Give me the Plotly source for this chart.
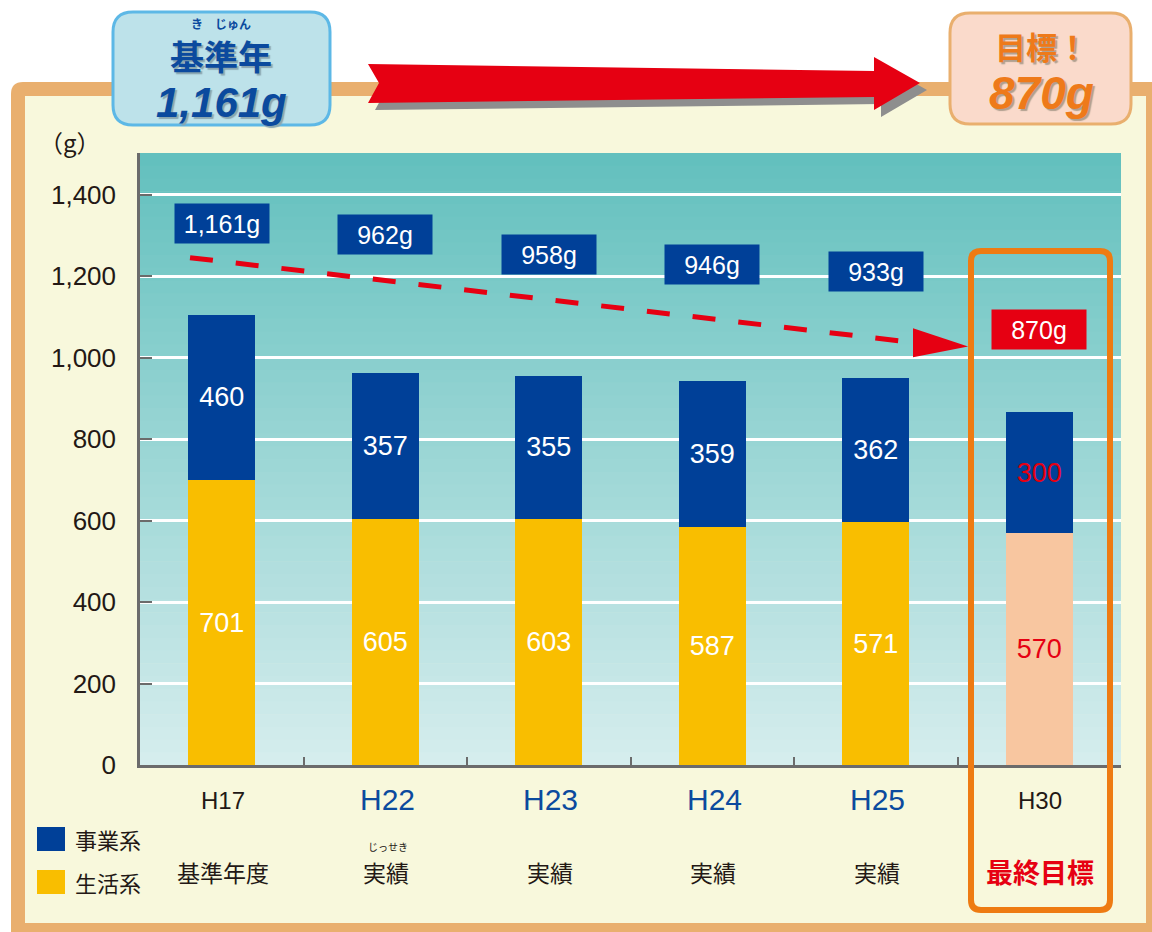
import plotly.graph_objects as go

# ---------------- data ----------------
categories = ["H17", "H22", "H23", "H24", "H25", "H30"]
row2_labels = ["基準年度", "実績", "実績", "実績", "実績", "最終目標"]
# segment heights as drawn in the picture
seikatsu_height = [700, 604, 604, 584, 597, 570]
jigyo_height = [405, 358, 351, 359, 353, 296]
# printed labels
seikatsu_label = [701, 605, 603, 587, 571, 570]
jigyo_label = [460, 357, 355, 359, 362, 300]
totals = [1161, 962, 958, 946, 933, 870]
y_ticks = [0, 200, 400, 600, 800, 1000, 1200, 1400]

# ---------------- layout helpers ----------------
W, H = 1152, 932          # design canvas
H_PAGE = 947              # rendered page height (viewport is captured into 932 px)
def px(x): return x / W
def py(y): return 1 - y / H
def path(points):
    s = "M %f,%f " % (px(points[0][0]), py(points[0][1]))
    for p in points[1:]:
        s += "L %f,%f " % (px(p[0]), py(p[1]))
    return s + "Z"
def rrect(x0, y0, x1, y1, r):
    P = lambda x, y: "%f,%f" % (px(x), py(y))
    return ("M " + P(x0 + r, y0) + " L " + P(x1 - r, y0) + " Q " + P(x1, y0) + " " + P(x1, y0 + r) +
            " L " + P(x1, y1 - r) + " Q " + P(x1, y1) + " " + P(x1 - r, y1) +
            " L " + P(x0 + r, y1) + " Q " + P(x0, y1) + " " + P(x0, y1 - r) +
            " L " + P(x0, y0 + r) + " Q " + P(x0, y0) + " " + P(x0 + r, y0) + " Z")

BLUE = "#004098"
YELLOW = "#F9BE00"
PEACH = "#F8C6A0"
RED = "#E60012"
ORANGE = "#EE7B12"
TAN = "#E9AF6E"
CREAM = "#F8F8DC"
DARK = "#231815"
NUMF = "Liberation Sans, Arial, sans-serif"
JPF = "Noto Sans CJK JP, sans-serif"

plot_top, plot_bot, plot_left, plot_right = 153, 765.2, 140, 1121
y_max = (plot_bot - plot_top) / ((plot_bot - 194.5) / 1400)

fig = go.Figure()
fig.add_trace(go.Bar(
    x=categories, y=seikatsu_height, name="生活系", width=0.41,
    marker=dict(color=[YELLOW] * 5 + [PEACH], line=dict(width=0)),
    text=[str(v) for v in seikatsu_label], textposition="inside", insidetextanchor="middle",
    textangle=0, constraintext="none",
    textfont=dict(family=NUMF, size=27, color=["white"] * 5 + [RED]),
    hoverinfo="skip"))
fig.add_trace(go.Bar(
    x=categories, y=jigyo_height, name="事業系", width=0.41,
    marker=dict(color=BLUE, line=dict(width=0)),
    text=[str(v) for v in jigyo_label], textposition="inside", insidetextanchor="middle",
    textangle=0, constraintext="none",
    textfont=dict(family=NUMF, size=27, color=["white"] * 5 + [RED]),
    hoverinfo="skip"))

shapes = []
# outer frame & cream panel
shapes.append(dict(type="path", xref="paper", yref="paper", layer="below",
                   path=rrect(11, 82, 1165, 960, 12), fillcolor=TAN, line=dict(width=0)))
shapes.append(dict(type="rect", xref="paper", yref="paper", layer="below",
                   x0=px(25), x1=px(1146), y0=py(923), y1=py(96), fillcolor=CREAM, line=dict(width=0)))
# gradient background of plot area
n = 48
top_c = (98, 192, 190)
bot_c = (214, 237, 237)
for i in range(n):
    t = (i + 0.5) / n
    c = tuple(int(round(top_c[k] + (bot_c[k] - top_c[k]) * t)) for k in range(3))
    y0 = plot_top + (plot_bot - plot_top) * i / n
    y1 = plot_top + (plot_bot - plot_top) * (i + 1) / n
    shapes.append(dict(type="rect", xref="paper", yref="paper", layer="below",
                       x0=px(plot_left), x1=px(plot_right), y0=py(y1 + 0.6), y1=py(y0),
                       fillcolor="rgb(%d,%d,%d)" % c, line=dict(width=0)))

# big red arrow at the top (shadow then arrow)
arrow_pts = [(368, 64), (874, 71), (874, 57), (920, 83), (874, 110), (874, 97), (368, 103), (379, 83)]
shapes.append(dict(type="path", xref="paper", yref="paper", layer="above",
                   path=path([(x + 7, y + 7) for x, y in arrow_pts]), fillcolor="#8E8E8E", line=dict(width=0)))
shapes.append(dict(type="path", xref="paper", yref="paper", layer="above",
                   path=path(arrow_pts), fillcolor=RED, line=dict(width=0)))

# top boxes
shapes.append(dict(type="path", xref="paper", yref="paper", layer="above",
                   path=rrect(113, 12, 330, 125, 20), fillcolor="#BDE2EA", line=dict(color="#5DB8E6", width=3)))
shapes.append(dict(type="path", xref="paper", yref="paper", layer="above",
                   path=rrect(950, 13, 1131, 124, 20), fillcolor="#FADACB", line=dict(color=TAN, width=3)))

# dashed trend line and arrowhead (in category/value units)
shapes.append(dict(type="line", xref="x", yref="y", x0=-0.194, y0=1245, x1=4.23, y1=1037,
                   line=dict(color=RED, width=5, dash="23px,23px"), layer="above"))
shapes.append(dict(type="path", xref="x", yref="y", layer="above",
                   path="M 4.228,1072 L 4.565,1027 L 4.228,1001 Z", fillcolor=RED, line=dict(width=0)))

# orange frame around the target column
shapes.append(dict(type="path", xref="paper", yref="paper", layer="above",
                   path=rrect(971, 251, 1110, 910, 10), fillcolor="rgba(0,0,0,0)", line=dict(color=ORANGE, width=6)))

# legend squares
shapes.append(dict(type="rect", xref="paper", yref="paper", x0=px(37), x1=px(65), y0=py(851), y1=py(827),
                   fillcolor=BLUE, line=dict(width=0)))
shapes.append(dict(type="rect", xref="paper", yref="paper", x0=px(37), x1=px(65), y0=py(894), y1=py(870),
                   fillcolor=YELLOW, line=dict(width=0)))

ann = []
def A(x, y, text, size, color, family=JPF, xanchor="center", **kw):
    d = dict(xref="paper", yref="paper", x=px(x), y=py(y), text=text, showarrow=False,
             xanchor=xanchor, yanchor="middle", font=dict(family=family, size=size, color=color))
    d["font"].update(kw.pop("fontkw", {}))
    d.update(kw)
    ann.append(d)

# total boxes
box_y = [1329, 1302, 1253, 1228, 1211, 1068]
for i, (c, v) in enumerate(zip(categories, totals)):
    ann.append(dict(xref="x", yref="y", x=i, y=box_y[i], text="{:,}g".format(v), showarrow=False,
                    bgcolor=BLUE if i < 5 else RED, width=90, height=35, borderpad=2,
                    font=dict(family=NUMF, size=25, color="white")))

# x category labels
for i, c in enumerate(categories):
    xc = plot_left + (plot_right - plot_left) * (i + 0.5) / len(categories)
    if c in ("H17", "H30"):
        A(xc + 1, 800, c, 24, DARK, family=NUMF)
    else:
        A(xc + 2, 799, c, 30, "#0B4A9E", family=NUMF)
    if i == 5:
        A(xc + 1, 871, "<b>" + row2_labels[i] + "</b>", 27, RED)
    else:
        A(xc + 1, 872, row2_labels[i], 23, DARK)
# furigana
A(388, 846, "じっせき", 10, DARK)

# legend text
A(73, 839, "事業系", 22, DARK, xanchor="left")
A(73, 882, "生活系", 22, DARK, xanchor="left")
# unit
A(70, 142, "（g）", 24, DARK)

# top box texts
A(221, 24, "き　じゅん", 12, "#0B4A9E", fontkw=dict(weight="bold"))
A(221, 56, "<b>基準年</b>", 34, "#0B4A9E", fontkw=dict(shadow="2px 2px 1px #8aa6b0"))
A(221, 103, "<b><i>1,161g</i></b>", 42, "#0B4A9E", family=NUMF, fontkw=dict(shadow="2px 2px 1px #8aa6b0"))
A(1041, 45, "<b>目標！</b>", 31, "#EE7A1A", fontkw=dict(shadow="2px 2px 1px #b0a090"))
A(1041, 93, "<b><i>870g</i></b>", 46, "#EE7A1A", family=NUMF, fontkw=dict(shadow="2px 2px 1px #b0a090"))

fig.update_layout(
    width=W, height=H_PAGE, margin=dict(l=0, r=0, t=0, b=0),
    paper_bgcolor="white", plot_bgcolor="rgba(0,0,0,0)",
    barmode="stack", showlegend=False,
    shapes=shapes, annotations=ann,
    xaxis=dict(type="category", domain=[px(plot_left), px(plot_right)], showgrid=False,
               showline=True, linecolor="#6b6b6b", linewidth=2.5, ticks="inside", ticklen=8,
               tickwidth=2, tickcolor="#6b6b6b", tickson="boundaries", showticklabels=False,
               range=[-0.5, 5.5], fixedrange=True),
    yaxis=dict(domain=[py(plot_bot), py(plot_top)], range=[0, y_max], tickvals=y_ticks,
               tickformat=",", showgrid=True, gridcolor="white", gridwidth=2.5, zeroline=False,
               showline=True, linecolor="#6b6b6b", linewidth=2.5, ticks="inside", ticklen=12,
               tickwidth=2, tickcolor="#6b6b6b", ticklabelstandoff=16,
               tickfont=dict(family=NUMF, size=26, color=DARK), fixedrange=True),
)

fig.write_html("out.html", config={"displayModeBar": False},
               post_script=("var d=document.getElementById('{plot_id}');"
                            "d.style.position='fixed';d.style.top='0';d.style.left='0';"
                            "document.body.style.margin='0';document.body.style.overflow='hidden';"
                            "document.documentElement.style.overflow='hidden';"))
